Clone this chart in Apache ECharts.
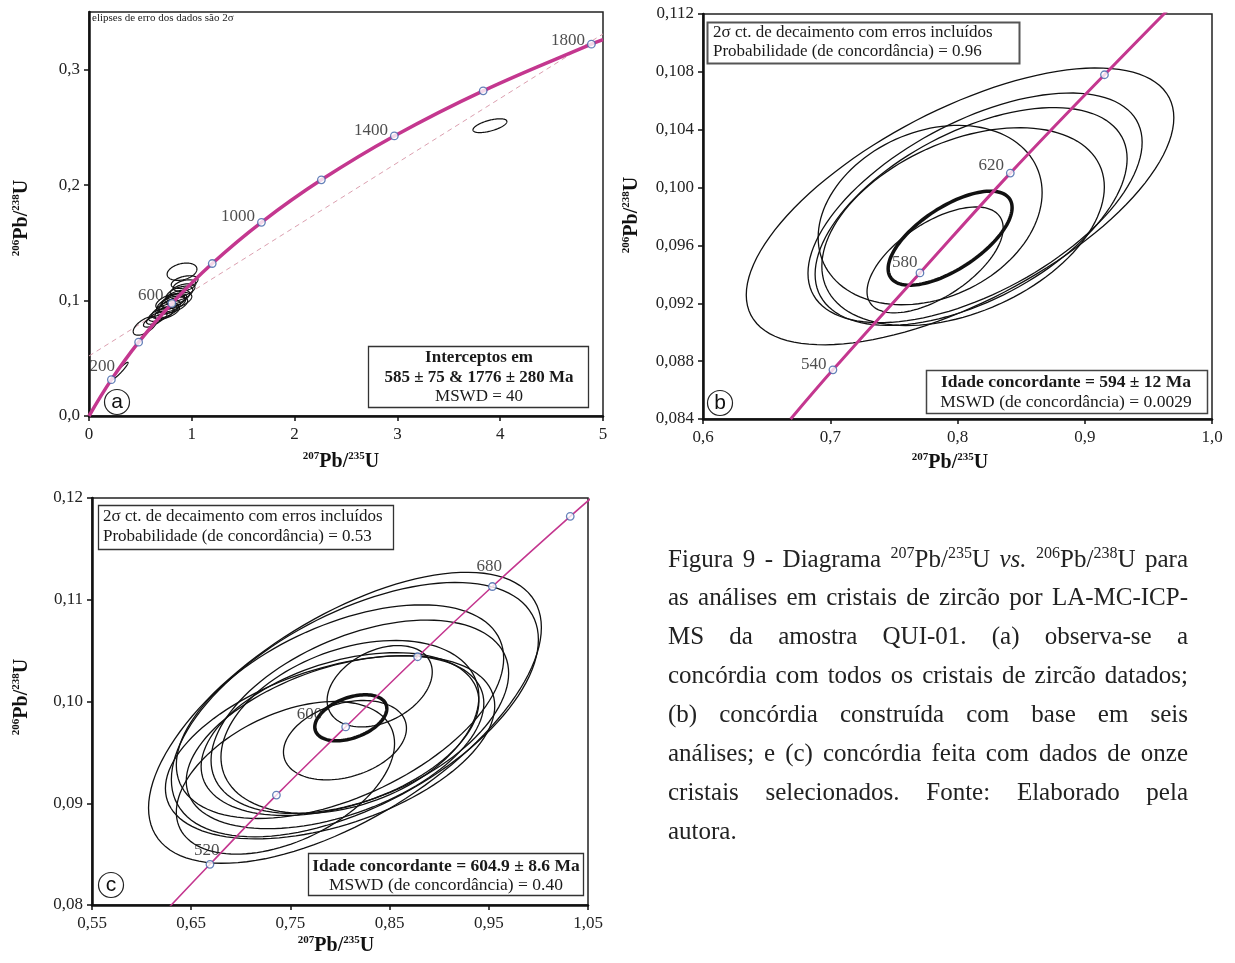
<!DOCTYPE html>
<html><head><meta charset="utf-8">
<script src="https://cdn.jsdelivr.net/npm/echarts@6/dist/echarts.min.js"></script>
<style>html,body{margin:0;padding:0;background:#fff}#c{width:1235px;height:963px}</style>
</head><body><div id="c"></div>
<script>
// ---------------- DATA ----------------
// Panel (a): concordia age markers
const agesA = [200, 400, 600, 800, 1000, 1200, 1400, 1600, 1800];
const markA_x = [0.2177, 0.4828, 0.8057, 1.1987, 1.6774, 2.2604, 2.9701, 3.8345, 4.8869];
const markA_y = [0.0315, 0.0640, 0.0975, 0.1321, 0.1678, 0.2046, 0.2426, 0.2817, 0.3221];
const labelsA = [200, 600, 1000, 1400, 1800];
const curveA_x = [0, 0.2177, 0.4828, 0.8057, 1.1987, 1.6774, 2.2604, 2.9701, 3.8345, 4.8869, 5.0];
const curveA_y = [0, 0.0315, 0.0640, 0.0975, 0.1321, 0.1678, 0.2046, 0.2426, 0.2817, 0.3221, 0.3260];
const discordA_x = [0, 5];
const discordA_y = [0.052, 0.331];
// ellipses: [x, y, sx, sy, rho]
const ellipsesA = [
  [0.905, 0.1250, 0.145, 0.0075, 0.30],
  [0.930, 0.1160, 0.130, 0.0055, 0.40],
  [0.545, 0.0780, 0.115, 0.0080, 0.60],
  [0.300, 0.0390, 0.080, 0.0075, 0.95],
  [3.900, 0.2515, 0.165, 0.0060, 0.60],
  [0.700, 0.0880, 0.120, 0.0060, 0.60],
  [0.740, 0.0910, 0.130, 0.0065, 0.60],
  [0.770, 0.0940, 0.120, 0.0060, 0.55],
  [0.800, 0.0970, 0.140, 0.0070, 0.55],
  [0.830, 0.1000, 0.120, 0.0060, 0.55],
  [0.860, 0.1030, 0.120, 0.0060, 0.50],
  [0.880, 0.1060, 0.130, 0.0065, 0.50],
  [0.910, 0.1090, 0.120, 0.0055, 0.45],
  [0.790, 0.0990, 0.140, 0.0070, 0.50],
  [0.820, 0.0960, 0.140, 0.0070, 0.55],
  [0.760, 0.0900, 0.120, 0.0060, 0.60],
  [0.660, 0.0850, 0.100, 0.0055, 0.65],
  [0.620, 0.0820, 0.090, 0.0050, 0.65],
  [0.850, 0.1000, 0.150, 0.0070, 0.50],
  [0.930, 0.1130, 0.110, 0.0050, 0.40]
];
const ticksA_x = [0, 1, 2, 3, 4, 5];
const ticksA_y = [0, 0.1, 0.2, 0.3];

// Panel (b)
const agesB = [540, 580, 620, 660];
const markB_x = [0.7021, 0.7705, 0.8415, 0.9155];
const markB_y = [0.0874, 0.0941, 0.1010, 0.1078];
const labelsB = [540, 580, 620];
const curveB_x = [0.6689, 0.7021, 0.7705, 0.8415, 0.9155, 0.9925];
const curveB_y = [0.0840, 0.0874, 0.0941, 0.1010, 0.1078, 0.1147];
const ellipsesB = [
  [0.8020, 0.0987, 0.1680, 0.00957, 0.64],
  [0.8138, 0.0986, 0.1313, 0.00794, 0.57],
  [0.8107, 0.0980, 0.1226, 0.00753, 0.53],
  [0.8044, 0.0973, 0.1110, 0.00684, 0.40],
  [0.7785, 0.0981, 0.0880, 0.00620, 0.25],
  [0.7824, 0.0950, 0.0535, 0.00366, 0.60]
];
const concordiaB = [[0.7942, 0.0965, 0.0487, 0.00325, 0.65]];
const ticksB_x = [0.6, 0.7, 0.8, 0.9, 1.0];
const ticksB_y = [0.084, 0.088, 0.092, 0.096, 0.100, 0.104, 0.108, 0.112];

// Panel (c)
const agesC = [520, 560, 600, 640, 680, 720];
const markC_x = [0.6689, 0.7359, 0.8057, 0.8782, 0.9536, 1.0321];
const markC_y = [0.0840, 0.0908, 0.0975, 0.1044, 0.1113, 0.1182];
const labelsC = [520, 600, 680];
const curveC_x = [0.6202, 0.6689, 0.7359, 0.8057, 0.8782, 0.9536, 1.0321, 1.0726];
const curveC_y = [0.0790, 0.0840, 0.0908, 0.0975, 0.1044, 0.1113, 0.1182, 0.1216];
const ellipsesC = [
  [0.805, 0.0984, 0.198, 0.0143, 0.62],
  [0.815, 0.0992, 0.185, 0.0125, 0.55],
  [0.790, 0.0955, 0.166, 0.0090, 0.45],
  [0.795, 0.0960, 0.150, 0.0085, 0.45],
  [0.800, 0.0968, 0.140, 0.0080, 0.40],
  [0.810, 0.0975, 0.130, 0.0085, 0.35],
  [0.820, 0.0985, 0.150, 0.0095, 0.45],
  [0.840, 0.1015, 0.053, 0.0040, 0.35],
  [0.805, 0.0962, 0.062, 0.0039, 0.30],
  [0.745, 0.0925, 0.110, 0.0075, 0.45],
  [0.800, 0.0990, 0.165, 0.0105, 0.50]
];
const concordiaC = [[0.8109, 0.0984, 0.0363, 0.00226, 0.40]];
const ticksC_x = [0.55, 0.65, 0.75, 0.85, 0.95, 1.05];
const ticksC_y = [0.08, 0.09, 0.10, 0.11, 0.12];

// ---------------- RENDER ----------------
const SERIF = '"Liberation Serif","Times New Roman",serif';
const SANS = '"Liberation Sans",Arial,sans-serif';
const MAG = '#c4378f';
const chart = echarts.init(document.getElementById('c'), null, {renderer: 'canvas', width: 1235, height: 963});

const zip = (xs, ys) => xs.map((x, i) => [x, ys[i]]);
const comma = d => v => v.toFixed(d).replace('.', ',');

function xAxis(gi, min, max, ticks, dec) {
  return {type: 'value', gridIndex: gi, min, max, position: 'bottom',
    axisLine: {show: true, onZero: false, lineStyle: {color: '#111', width: 2.5}},
    axisTick: {show: true, inside: false, length: 5, customValues: ticks, lineStyle: {color: '#111', width: 1.5}},
    axisLabel: {customValues: ticks, formatter: comma(dec), fontFamily: SERIF, fontSize: 17, color: '#222', margin: 10},
    splitLine: {show: false}};
}
function yAxis(gi, min, max, ticks, dec) {
  return {type: 'value', gridIndex: gi, min, max, position: 'left',
    axisLine: {show: true, onZero: false, lineStyle: {color: '#111', width: 2.5}},
    axisTick: {show: true, inside: false, length: 5, customValues: ticks, lineStyle: {color: '#111', width: 1.5}},
    axisLabel: {customValues: ticks, formatter: comma(dec), fontFamily: SERIF, fontSize: 17, color: '#222', margin: 9},
    splitLine: {show: false}};
}

function ellipseSeries(gi, data, lw, color) {
  return {type: 'custom', xAxisIndex: gi, yAxisIndex: gi, clip: true, silent: true, z: 3,
    data: data, encode: {x: 0, y: 1},
    renderItem: function (params, api) {
      const cx = api.value(0), cy = api.value(1), sx = api.value(2), sy = api.value(3), r = api.value(4);
      const k = Math.sqrt(1 - r * r), pts = [];
      for (let i = 0; i < 120; i++) {
        const t = i / 120 * 2 * Math.PI;
        pts.push(api.coord([cx + sx * Math.cos(t), cy + sy * (r * Math.cos(t) + k * Math.sin(t))]));
      }
      return {type: 'polygon', shape: {points: pts}, style: {fill: 'none', stroke: color || '#111', lineWidth: lw}};
    }};
}
function curveSeries(gi, xs, ys, lw) {
  return {type: 'line', xAxisIndex: gi, yAxisIndex: gi, data: zip(xs, ys), smooth: 0.4, showSymbol: false,
    clip: true, silent: true, z: 4, lineStyle: {color: MAG, width: lw}};
}
function markerSeries(gi, ages, xs, ys, labeled, offs) {
  return {type: 'scatter', xAxisIndex: gi, yAxisIndex: gi, z: 6, silent: true, symbol: 'circle', symbolSize: 7.5,
    itemStyle: {color: '#fff', borderColor: '#3f62a8', borderWidth: 1.3},
    data: ages.map((a, i) => ({value: [xs[i], ys[i]],
      label: labeled.includes(a) ? {show: true, formatter: String(a), position: 'left', distance: 2,
        offset: offs[a] || [0, -6], fontFamily: SERIF, fontSize: 17, color: '#222'} : {show: false}}))};
}

const gridStyle = {show: true, borderColor: '#222', borderWidth: 1.5, backgroundColor: 'transparent'};

const option = {
  animation: false,
  backgroundColor: '#fff',
  grid: [
    Object.assign({left: 89, top: 12, width: 514, height: 404}, gridStyle),
    Object.assign({left: 703, top: 14, width: 509, height: 405}, gridStyle),
    Object.assign({left: 92, top: 498, width: 496, height: 407}, gridStyle)
  ],
  xAxis: [xAxis(0, 0, 5, ticksA_x, 0), xAxis(1, 0.6, 1.0, ticksB_x, 1), xAxis(2, 0.55, 1.05, ticksC_x, 2)],
  yAxis: [yAxis(0, 0, 0.35, ticksA_y, 1), yAxis(1, 0.084, 0.112, ticksB_y, 3), yAxis(2, 0.08, 0.12, ticksC_y, 2)],
  series: [
    {type: 'line', xAxisIndex: 0, yAxisIndex: 0, data: zip(discordA_x, discordA_y), showSymbol: false, silent: true, z: 2,
      lineStyle: {color: '#dca0b0', width: 1, type: [5, 4]}},
    curveSeries(0, curveA_x, curveA_y, 3.5),
    ellipseSeries(0, ellipsesA, 1.2),
    markerSeries(0, agesA, markA_x, markA_y, labelsA, {200: [10, -13], 600: [-2, -8], 1000: [0, -6], 1400: [0, -5], 1800: [0, -4]}),

    curveSeries(1, curveB_x, curveB_y, 3),
    ellipseSeries(1, ellipsesB, 1.3),
    ellipseSeries(1, concordiaB, 3.5),
    markerSeries(1, agesB, markB_x, markB_y, labelsB, {540: [0, -5], 580: [4, -10], 620: [0, -8]}),

    curveSeries(2, curveC_x, curveC_y, 1.6),
    ellipseSeries(2, ellipsesC, 1.3),
    ellipseSeries(2, concordiaC, 3.5),
    markerSeries(2, agesC, markC_x, markC_y, labelsC, {520: [16, -14], 600: [-17, -12], 680: [16, -20]})
  ],
  graphic: []
};

// ---------- graphic texts ----------
const G = option.graphic;
function axisTitle(x, y, rot) {
  G.push({type: 'text', x: x, y: y, rotation: rot ? Math.PI / 2 : 0, z: 10,
    style: {text: rot ? '{s|206}{b|Pb/}{s|238}{b|U}' : '{s|207}{b|Pb/}{s|235}{b|U}', align: 'center', verticalAlign: 'middle',
      rich: {s: {fontFamily: SERIF, fontWeight: 'bold', fontSize: 11, verticalAlign: 'top', fill: '#111'},
             b: {fontFamily: SERIF, fontWeight: 'bold', fontSize: 20, lineHeight: 22, verticalAlign: 'middle', fill: '#111'}}}});
}
axisTitle(341, 462, false); axisTitle(22, 218, true);
axisTitle(950, 463, false); axisTitle(632, 215, true);
axisTitle(336, 946, false); axisTitle(22, 697, true);

function box(x, y, w, h, stroke, lw) {
  G.push({type: 'rect', z: 8, shape: {x: x, y: y, width: w, height: h}, style: {fill: '#fff', stroke: stroke, lineWidth: lw}});
}
function txt(x, y, s, size, bold, align) {
  G.push({type: 'text', z: 9, x: x, y: y, style: {text: s, fontFamily: SERIF, fontSize: size, fontWeight: bold ? 'bold' : 'normal',
    fill: '#1a1a1a', align: align || 'center', verticalAlign: 'middle'}});
}
function circled(x, y, ch) {
  G.push({type: 'circle', z: 8, shape: {cx: x, cy: y, r: 12.5}, style: {fill: '#fff', stroke: '#222', lineWidth: 1.2}});
  G.push({type: 'text', z: 9, x: x, y: y + 0.5, style: {text: ch, fontFamily: SANS, fontSize: 21, fill: '#111', align: 'center', verticalAlign: 'middle'}});
}
// panel a
txt(92, 18, 'elipses de erro dos dados são 2σ', 11, false, 'left');
box(368.5, 346.5, 220, 61, '#333', 1.3);
txt(479, 358, 'Interceptos em', 17, true);
txt(479, 378, '585 ± 75 & 1776 ± 280 Ma', 17, true);
txt(479, 397, 'MSWD = 40', 17, false);
circled(117, 402, 'a');
// panel b
box(707.5, 22.5, 312, 41, '#555', 2);
txt(713, 33, '2σ ct. de decaimento com erros incluídos', 17, false, 'left');
txt(713, 52, 'Probabilidade (de concordância) = 0.96', 17, false, 'left');
box(926.5, 370.5, 281, 43, '#444', 1.5);
txt(1066, 382, 'Idade concordante = 594 ± 12 Ma', 17.5, true);
txt(1066, 402, 'MSWD (de concordância) = 0.0029', 17.5, false);
circled(720, 403, 'b');
// panel c
box(98.5, 505.5, 295, 44, '#333', 1.3);
txt(103, 517, '2σ ct. de decaimento com erros incluídos', 17, false, 'left');
txt(103, 537, 'Probabilidade (de concordância) = 0.53', 17, false, 'left');
box(308.5, 853.5, 275, 42, '#333', 1.3);
txt(446, 866, 'Idade concordante = 604.9 ± 8.6 Ma', 17.5, true);
txt(446, 885, 'MSWD (de concordância) = 0.40', 17.5, false);
circled(111, 885, 'c');

// ---------- caption (justified) ----------
const captionLines = [
  'Figura 9 - Diagrama ^207^Pb/^235^U *vs.* ^206^Pb/^238^U para',
  'as análises em cristais de zircão por LA-MC-ICP-',
  'MS da amostra QUI-01. (a) observa-se a',
  'concórdia com todos os cristais de zircão datados;',
  '(b) concórdia construída com base em seis',
  'análises; e (c) concórdia feita com dados de onze',
  'cristais selecionados. Fonte: Elaborado pela',
  'autora.'
];
const CAP = {size: 25, sup: 16, left: 668, right: 1188, top: 560, lh: 38.9};
const mctx = document.createElement('canvas').getContext('2d');
function parseWord(w) {
  const segs = []; let mode = 'n', buf = '';
  for (const ch of w) {
    if (ch === '^') { if (buf) segs.push([mode, buf]); buf = ''; mode = mode === 's' ? 'n' : 's'; }
    else if (ch === '*') { if (buf) segs.push([mode, buf]); buf = ''; mode = mode === 'i' ? 'n' : 'i'; }
    else buf += ch;
  }
  if (buf) segs.push([mode, buf]);
  return segs;
}
function segFont(m) {
  if (m === 's') return CAP.sup + 'px ' + SERIF;
  if (m === 'i') return 'italic ' + CAP.size + 'px ' + SERIF;
  return CAP.size + 'px ' + SERIF;
}
function wordWidth(segs) {
  let w = 0; for (const [m, t] of segs) { mctx.font = segFont(m); w += mctx.measureText(t).width; } return w;
}
const capRich = {
  n: {fontFamily: SERIF, fontSize: CAP.size, lineHeight: 28, verticalAlign: 'middle', fill: '#222'},
  i: {fontFamily: SERIF, fontSize: CAP.size, fontStyle: 'italic', lineHeight: 28, verticalAlign: 'middle', fill: '#222'},
  s: {fontFamily: SERIF, fontSize: CAP.sup, verticalAlign: 'top', fill: '#222'}
};
captionLines.forEach((line, li) => {
  const words = line.split(' ').map(parseWord);
  const widths = words.map(wordWidth);
  const total = widths.reduce((a, b) => a + b, 0);
  const justify = li < captionLines.length - 1;
  mctx.font = segFont('n');
  const gap = justify && words.length > 1 ? (CAP.right - CAP.left - total) / (words.length - 1) : mctx.measureText(' ').width;
  let x = CAP.left;
  const y = CAP.top + li * CAP.lh;
  words.forEach((segs, wi) => {
    const text = segs.map(([m, t]) => '{' + m + '|' + t + '}').join('');
    G.push({type: 'text', x: x, y: y, z: 9, style: {text: text, rich: capRich, align: 'left', verticalAlign: 'middle'}});
    x += widths[wi] + gap;
  });
});

chart.setOption(option);
</script></body></html>
